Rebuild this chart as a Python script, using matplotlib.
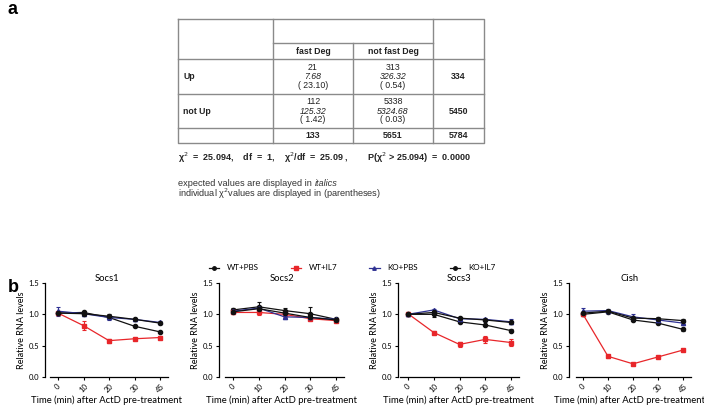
import matplotlib
matplotlib.use('Agg')
import matplotlib.pyplot as plt
from matplotlib.lines import Line2D

# 表格数据 (panel a)
col_names = ['fast Deg', 'not fast Deg']
row_names = ['Up', 'not Up']
observed = [[21, 313], [112, 5338]]
expected = [[7.68, 326.32], [125.32, 5324.68]]
chi_cells = [[23.10, 0.54], [1.42, 0.03]]
row_totals = [334, 5450]
col_totals = [133, 5651]
grand_total = 5784
chi2_line = 'χ$^2$  =  25.094,    df  =  1,    χ$^2$/df  =  25.09 ,        P(χ$^2$ > 25.094)  =  0.0000'
notes = ['expected values are displayed in ', 'individual χ$^2$values are displayed in (parentheses)']

# 曲线数据 (panel b)
times = [0, 10, 20, 30, 45]
genes = ['Socs1', 'Socs2', 'Socs3', 'Cish']
groups = ['WT+PBS', 'WT+IL7', 'KO+PBS', 'KO+IL7']
values = {
    'Socs1': [[1.02, 1.03, 0.95, 0.81, 0.72],
              [1.02, 0.82, 0.58, 0.61, 0.63],
              [1.05, 1.01, 0.95, 0.92, 0.87],
              [1.02, 1.01, 0.97, 0.92, 0.86]],
    'Socs2': [[1.07, 1.12, 1.06, 1.01, 0.92],
              [1.03, 1.03, 1.00, 0.93, 0.90],
              [1.05, 1.10, 0.96, 0.95, 0.92],
              [1.04, 1.09, 1.02, 0.95, 0.91]],
    'Socs3': [[1.00, 1.00, 0.88, 0.83, 0.74],
              [1.01, 0.71, 0.52, 0.60, 0.55],
              [1.00, 1.07, 0.93, 0.92, 0.88],
              [1.00, 1.03, 0.94, 0.91, 0.87]],
    'Cish':  [[1.00, 1.04, 0.91, 0.86, 0.76],
              [1.00, 0.33, 0.21, 0.32, 0.43],
              [1.05, 1.06, 0.96, 0.91, 0.86],
              [1.02, 1.05, 0.94, 0.93, 0.90]],
}
errors = {
    'Socs1': [[0.02, 0.02, 0.03, 0.02, 0.02],
              [0.02, 0.07, 0.03, 0.02, 0.03],
              [0.07, 0.02, 0.04, 0.02, 0.02],
              [0.02, 0.02, 0.03, 0.02, 0.02]],
    'Socs2': [[0.03, 0.08, 0.04, 0.10, 0.02],
              [0.02, 0.04, 0.04, 0.02, 0.02],
              [0.02, 0.03, 0.02, 0.02, 0.02],
              [0.02, 0.03, 0.02, 0.02, 0.02]],
    'Socs3': [[0.02, 0.05, 0.02, 0.02, 0.02],
              [0.02, 0.02, 0.04, 0.05, 0.05],
              [0.02, 0.02, 0.02, 0.02, 0.04],
              [0.02, 0.02, 0.02, 0.02, 0.02]],
    'Cish':  [[0.02, 0.02, 0.02, 0.02, 0.02],
              [0.02, 0.02, 0.02, 0.02, 0.02],
              [0.05, 0.03, 0.04, 0.02, 0.02],
              [0.02, 0.02, 0.02, 0.02, 0.02]],
}
colors = ['#111111', '#e8262a', '#2e3192', '#111111']
markers = ['o', 's', '^', 'o']

W, H = 704, 407
fig = plt.figure(figsize=(W / 100, H / 100), dpi=100)

# 整体画布, 像素坐标
bg = fig.add_axes([0, 0, 1, 1])
bg.set_xlim(0, W)
bg.set_ylim(H, 0)
bg.axis('off')

tf = 'Liberation Sans'
tc = '#222222'
bg.text(8, 10, 'a', fontsize=13, fontweight='bold', family=tf, va='center')
bg.text(8, 287, 'b', fontsize=13, fontweight='bold', family=tf, va='center')

# 表格边框
gc = '#8a8a8a'
xs = [178, 273, 353, 433, 484]
ys = [19, 43, 59, 94, 128, 143]
bg.plot([xs[0], xs[-1], xs[-1], xs[0], xs[0]], [ys[0], ys[0], ys[-1], ys[-1], ys[0]], color=gc, lw=1)
bg.plot([xs[1], xs[1]], [ys[0], ys[-1]], color=gc, lw=1)
bg.plot([xs[3], xs[3]], [ys[0], ys[-1]], color=gc, lw=1)
bg.plot([xs[2], xs[2]], [ys[1], ys[-1]], color=gc, lw=1)
bg.plot([xs[1], xs[3]], [ys[1], ys[1]], color=gc, lw=1)
for y in ys[2:5]:
    bg.plot([xs[0], xs[-1]], [y, y], color=gc, lw=1)

fs = 6.3
for j, name in enumerate(col_names):
    cx = (xs[j + 1] + xs[j + 2]) / 2
    bg.text(cx, (ys[1] + ys[2]) / 2, name, ha='center', va='center', fontsize=fs, fontweight='bold', family=tf, color=tc)
for i, name in enumerate(row_names):
    cy = (ys[i + 2] + ys[i + 3]) / 2
    bg.text(183, cy, name, ha='left', va='center', fontsize=fs, fontweight='bold', family=tf, color=tc)
    for j in range(2):
        cx = (xs[j + 1] + xs[j + 2]) / 2
        bg.text(cx, cy - 9, str(observed[i][j]), ha='center', va='center', fontsize=fs, family=tf, color=tc)
        bg.text(cx, cy, '%.2f' % expected[i][j], ha='center', va='center', fontsize=fs, family=tf, style='italic', color=tc)
        bg.text(cx, cy + 9, '( %.2f)' % chi_cells[i][j], ha='center', va='center', fontsize=fs, family=tf, color=tc)
    bg.text((xs[3] + xs[4]) / 2, cy, str(row_totals[i]), ha='center', va='center', fontsize=fs, fontweight='bold', family=tf, color=tc)
ty = (ys[4] + ys[5]) / 2
for j in range(2):
    cx = (xs[j + 1] + xs[j + 2]) / 2
    bg.text(cx, ty, str(col_totals[j]), ha='center', va='center', fontsize=fs, fontweight='bold', family=tf, color=tc)
bg.text((xs[3] + xs[4]) / 2, ty, str(grand_total), ha='center', va='center', fontsize=fs, fontweight='bold', family=tf, color=tc)

bg.text(178, 158, chi2_line, ha='left', va='center', fontsize=6.5, fontweight='bold', family=tf, color=tc)
t1 = bg.text(178, 183, notes[0], ha='left', va='center', fontsize=6.6, family=tf, color='#333333')
bg.annotate('italics', xycoords=t1, xy=(1, 0.5), va='center', ha='left', fontsize=6.6, family=tf,
            style='italic', color='#333333')
bg.text(178, 194, notes[1], ha='left', va='center', fontsize=6.6, family=tf, color='#333333')

# 四个小图: (y轴像素, 第一个刻度像素, 最后一个刻度像素)
panels = [(45, 58, 160), (219, 233, 336), (398, 408, 511), (569, 583, 683)]
top_px, bot_px = 283, 377
cf = 'Lato'
pos = list(range(len(times)))
for g, (yax, p0, p4) in zip(genes, panels):
    per = (p4 - p0) / 4.0
    right = p4 + 8
    ax = fig.add_axes([yax / W, (H - bot_px) / H, (right - yax) / W, (bot_px - top_px) / H])
    ax.set_xlim((yax - p0) / per, (right - p0) / per)
    ax.set_ylim(0, 1.5)
    for k in range(4):
        ax.errorbar(pos, values[g][k], yerr=errors[g][k], color=colors[k], marker=markers[k],
                    ms=3, lw=0.9, elinewidth=0.8, capsize=1.5, capthick=0.8)
    for s in ['top', 'right']:
        ax.spines[s].set_visible(False)
    ax.spines['left'].set_linewidth(0.9)
    ax.spines['bottom'].set_linewidth(0.9)
    ax.spines['bottom'].set_bounds(-0.3, (right - p0) / per)
    ax.set_xticks(pos)
    ax.set_xticklabels([str(t) for t in times], rotation=45, fontsize=5.5, family=cf)
    ax.set_yticks([0, 0.5, 1.0, 1.5])
    ax.set_yticklabels(['0.0', '0.5', '1.0', '1.5'], fontsize=5.5, family=cf)
    ax.tick_params(length=2.5, width=0.8, pad=1.5)
    ax.set_title(g, fontsize=6.8, family=cf, pad=-1)
    ax.set_ylabel('Relative RNA levels', fontsize=6.5, family=cf, labelpad=2)
    ax.set_xlabel('Time (min) after ActD pre-treatment', fontsize=6.8, family=cf, labelpad=1)

handles = [Line2D([], [], color=colors[k], marker=markers[k], ms=2.5, lw=0.9) for k in range(4)]
fig.legend(handles, groups, ncol=4, loc='center', bbox_to_anchor=(352 / W, (H - 268) / H), frameon=False,
           prop={'family': cf, 'size': 5.8}, handlelength=1.3, columnspacing=3.9, handletextpad=1.0)

fig.savefig('out.png', dpi=100)
